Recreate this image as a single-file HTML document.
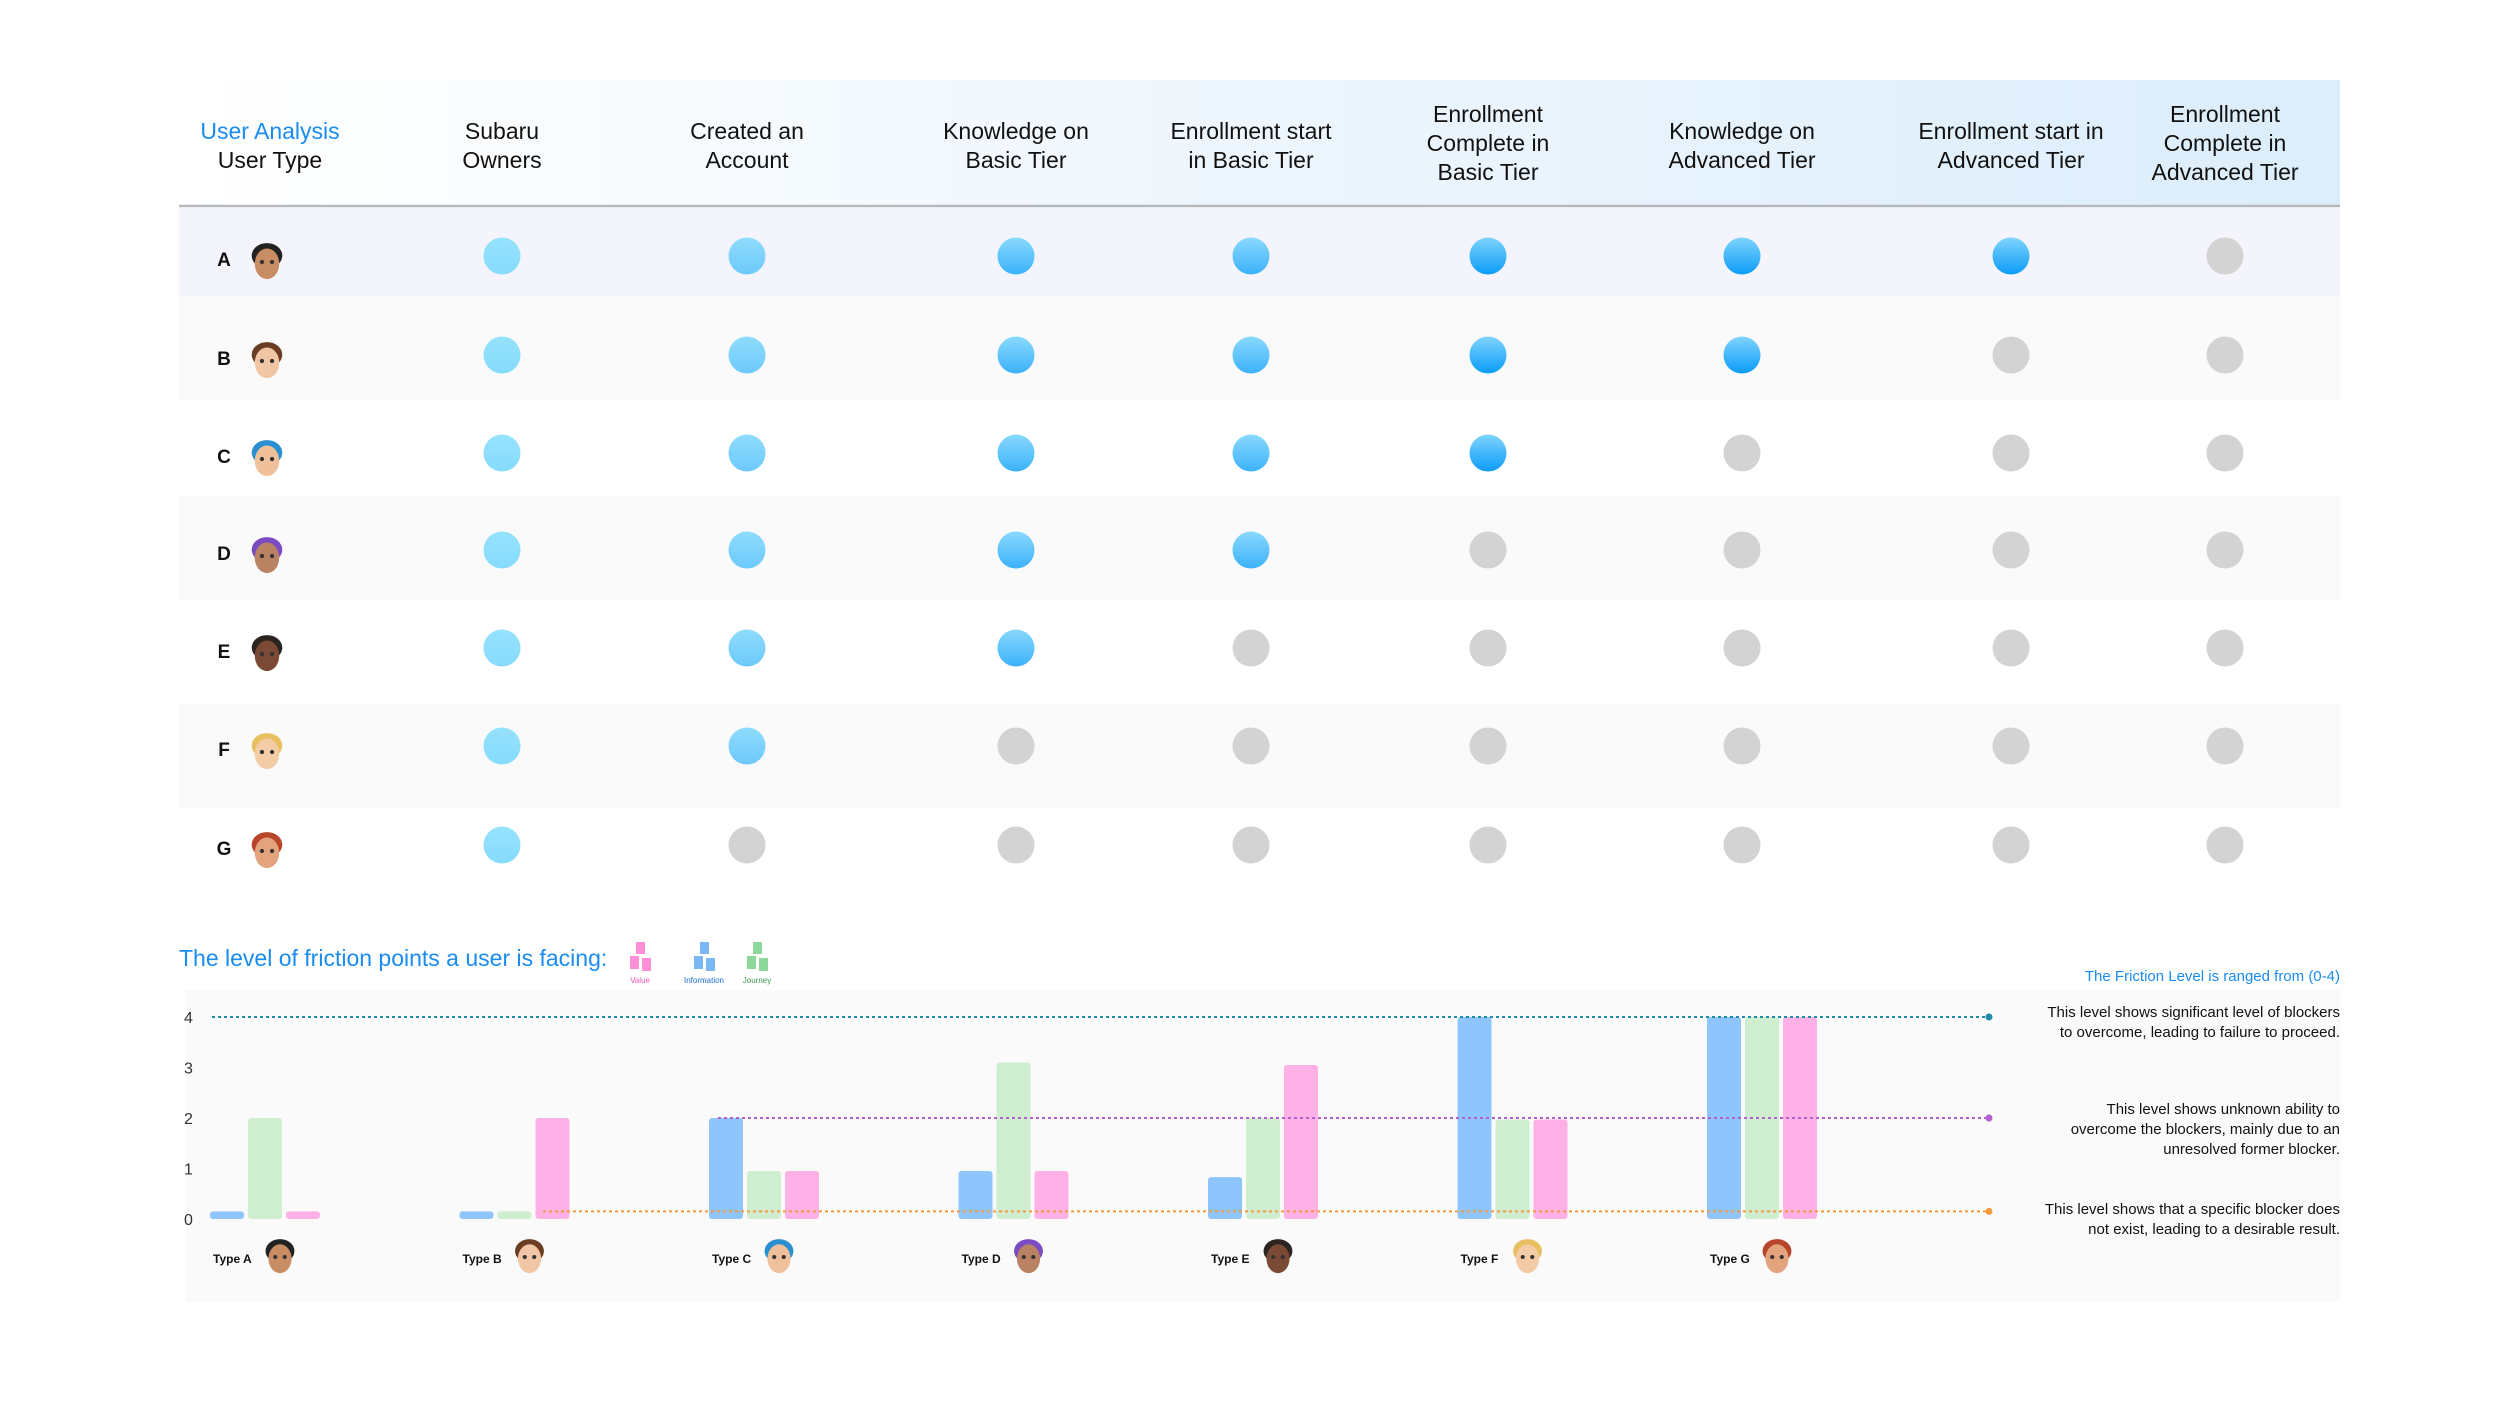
<!DOCTYPE html>
<html><head><meta charset="utf-8"><style>
html,body{margin:0;padding:0;background:#fff;}
svg{display:block;font-family:"Liberation Sans",sans-serif;}
</style></head><body>
<svg id="s" width="2500" height="1406" viewBox="0 0 2500 1406" xmlns="http://www.w3.org/2000/svg">
<defs>
<linearGradient id="hdr" x1="0" x2="1" y1="0" y2="0"><stop offset="0" stop-color="#ffffff"/><stop offset="1" stop-color="#dcedfb"/></linearGradient>
<linearGradient id="g1" x1="0" x2="0" y1="0" y2="1"><stop offset="0" stop-color="#96e2fd"/><stop offset="1" stop-color="#86dbfd"/></linearGradient>
<linearGradient id="g2" x1="0" x2="0" y1="0" y2="1"><stop offset="0" stop-color="#8fdcfd"/><stop offset="1" stop-color="#6cc9fb"/></linearGradient>
<linearGradient id="g3" x1="0" x2="0" y1="0" y2="1"><stop offset="0" stop-color="#88d9fd"/><stop offset="1" stop-color="#3cb2fa"/></linearGradient>
<linearGradient id="g4" x1="0" x2="0" y1="0" y2="1"><stop offset="0" stop-color="#7fd4fd"/><stop offset="1" stop-color="#0b9cf8"/></linearGradient>
</defs>
<rect x="179" y="80" width="2161" height="125" fill="url(#hdr)"/>
<line x1="179" y1="206" x2="2340" y2="206" stroke="#b5b8bd" stroke-width="2.5"/>
<g id="table"></g>
<rect x="186" y="990" width="2154" height="312" fill="#fafafa"/>
<text x="179" y="966" font-size="23" fill="#1a8cf0">The level of friction points a user is facing:</text>
<g id="legend"></g>
<g id="chart"></g>
<text x="2340" y="981" font-size="15" fill="#1a8cf0" text-anchor="end">The Friction Level is ranged from (0-4)</text>
<g font-size="15" fill="#111" text-anchor="end">
<text x="2340" y="1017">This level shows significant level of blockers</text>
<text x="2340" y="1037">to overcome, leading to failure to proceed.</text>
<text x="2340" y="1114">This level shows unknown ability to</text>
<text x="2340" y="1134">overcome the blockers, mainly due to an</text>
<text x="2340" y="1154">unresolved former blocker.</text>
<text x="2340" y="1214">This level shows that a specific blocker does</text>
<text x="2340" y="1234">not exist, leading to a desirable result.</text>
</g>
</svg>
<script>
// ---- table data ----
const columns = [["Subaru","Owners"],["Created an","Account"],["Knowledge on","Basic Tier"],["Enrollment start","in Basic Tier"],["Enrollment","Complete in","Basic Tier"],["Knowledge on","Advanced Tier"],["Enrollment start in","Advanced Tier"],["Enrollment","Complete in","Advanced Tier"]];
const users = ["A","B","C","D","E","F","G"];
const stagesReached = [7,6,5,4,3,2,1];
// ---- bar chart data ----
const types = ["Type A","Type B","Type C","Type D","Type E","Type F","Type G"];
const infoValues = [0.15,0.15,2,0.95,0.83,4,4];
const journeyValues = [2,0.15,0.95,3.1,2,1.97,4];
const valueValues = [0.15,2,0.95,0.95,3.05,1.97,4];
const yTicks = [0,1,2,3,4];
const levelLines = [4,2,0.15];

const NS="http://www.w3.org/2000/svg";
const svg=document.getElementById('s');
function mk(tag,attrs,parent){const e=document.createElementNS(NS,tag);for(const k in attrs)e.setAttribute(k,attrs[k]);(parent||svg).appendChild(e);return e;}

const tbl=document.getElementById('table');
const colX=[502,747,1016,1251,1488,1742,2011,2225];
const rowBands=[[208,296,'#f4f5fc'],[296,400,'#fafafa'],[400,496,'#ffffff'],[496,600,'#fafafa'],[600,704,'#ffffff'],[704,808,'#fafafa'],[808,900,'#ffffff']];
const rowY=[256,355,453,550,648,746,845];
const skins=[['#c98d63','#222'],['#f1c6a4','#6b3d22'],['#efc09a','#2a8fd0'],['#b98262','#7b4bc4'],['#7a4a34','#2b2420'],['#f3cca6','#e8c060'],['#e3a37c','#b8442a']];
function avatar(cx,cy,i,r,parent){
  const g=mk('g',{},parent);
  
  
  mk('ellipse',{cx:cx,cy:cy-r*0.35,rx:r*0.85,ry:r*0.7,fill:skins[i][1]},g);
  mk('ellipse',{cx:cx,cy:cy+r*0.1,rx:r*0.68,ry:r*0.85,fill:skins[i][0]},g);
  mk('circle',{cx:cx-r*0.28,cy:cy,r:r*0.12,fill:'#333'},g);
  mk('circle',{cx:cx+r*0.28,cy:cy,r:r*0.12,fill:'#333'},g);
}
// header texts
const hl=mk('text',{x:270,y:139,'font-size':23,fill:'#1a8cf0','text-anchor':'middle'},tbl);
hl.textContent='User Analysis';


const hl2=mk('text',{x:270,y:168,'font-size':23,fill:'#111','text-anchor':'middle'},tbl);
hl2.textContent='User Type';


columns.forEach((lines,c)=>{
  const t=mk('text',{'font-size':23,fill:'#111','text-anchor':'middle'},tbl);
  
  
  const y0=lines.length===3?122:139;
  lines.forEach((l,k)=>{const ts=mk('tspan',{x:colX[c],y:y0+k*29},t);ts.textContent=l;});
});
const grads=['url(#g1)','url(#g2)','url(#g3)','url(#g3)','url(#g4)','url(#g4)','url(#g4)','url(#g4)'];
users.forEach((u,r)=>{
  const b=rowBands[r];
  const rb=mk('rect',{x:179,y:b[0],width:2161,height:b[1]-b[0],fill:b[2]},tbl);
  
  
  const lt=mk('text',{x:224,y:rowY[r]+10,'font-size':19,'font-weight':'bold',fill:'#111','text-anchor':'middle'},tbl);
  lt.textContent=u;
  
  
  avatar(267,rowY[r]+6,r,18,tbl);
  colX.forEach((x,c)=>{
    const on=c<stagesReached[r];
    const ci=mk('circle',{cx:x,cy:rowY[r],r:18.5,fill:on?grads[c]:'#d3d3d3'},tbl);
    
    
  });
});

// legend
const lg=document.getElementById('legend');
const legendItems=[['Value','#ff8fd6','#e85bb8',640],['Information','#7ab8f5','#1a6fd0',704],['Journey','#8fd69b','#3c9a4c',757]];
legendItems.forEach(it=>{
  const g=mk('g',{},lg);
  
  
  mk('rect',{x:it[3]-4,y:942,width:9,height:12,fill:it[1]},g);
  mk('rect',{x:it[3]-10,y:956,width:9,height:13,fill:it[1]},g);
  mk('rect',{x:it[3]+2,y:958,width:9,height:13,fill:it[1]},g);
  const t=mk('text',{x:it[3],y:983,'font-size':8,fill:it[2],'text-anchor':'middle'},g);
  t.textContent=it[0];
});

// bar chart
const ch=document.getElementById('chart');
const y0px=1219, unit=50.5;
function yScale(v){return y0px-v*unit;}
const gStart=210, gStep=249.5, bw=34, bStep=38;
function xGroup(i){return gStart+i*gStep;}
yTicks.forEach(v=>{
  const t=mk('text',{x:184,y:yScale(v)+6,'font-size':16,fill:'#333'},ch);
  t.textContent=v;
  
  
});
const series=[[infoValues,'#8fc5fd','info'],[journeyValues,'#cfeecf','journey'],[valueValues,'#ffb1e6','value']];
types.forEach((ty,i)=>{
  series.forEach((s,k)=>{
    const v=s[0][i];
    const r=mk('rect',{x:xGroup(i)+k*bStep,y:yScale(v),width:bw,height:v*unit,rx:3,fill:s[1]},ch);
    
    
  });
  const t=mk('text',{x:xGroup(i)+3,y:1263,'font-size':12,'font-weight':'bold',fill:'#111'},ch);
  t.textContent=ty;
  
  
  avatar(xGroup(i)+70,1257,i,17,ch);
});
const lineCols=['#1f8ba8','#b45fd0','#f39a3a'];
const lineStarts=[212,718,543];
levelLines.forEach((v,k)=>{
  const y=yScale(v)-(k===0?0:0);
  const l=mk('line',{x1:lineStarts[k],y1:y,x2:1987,y2:y,stroke:lineCols[k],'stroke-width':2,'stroke-dasharray':'3 3'},ch);
  
  
  const d=mk('circle',{cx:1989,cy:y,r:3.5,fill:lineCols[k]},ch);
  
  
});
</script>
</body></html>
